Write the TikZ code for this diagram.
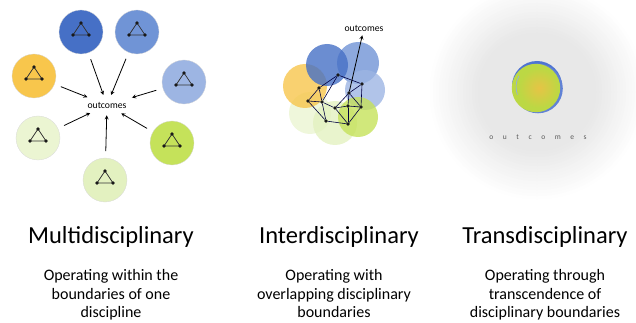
\documentclass[tikz,border=0pt]{standalone}
\usepackage{fontspec}
\setmainfont{Carlito}
\usetikzlibrary{arrows}

\definecolor{dblue}{HTML}{4670C6}
\definecolor{mblue}{HTML}{7094D6}
\definecolor{lblue}{HTML}{9DB5E3}
\definecolor{myellow}{HTML}{F8C64C}
\definecolor{pgreen}{HTML}{EBF5D2}
\definecolor{pgreen2}{HTML}{E3F1C0}
\definecolor{lime}{HTML}{C5E25A}
\definecolor{tblue}{HTML}{4F74D2}
\definecolor{tgreen}{HTML}{BCD844}
\definecolor{tyellow}{HTML}{E6C445}

\tikzset{
  disc/.style={circle, minimum size=44pt, inner sep=0pt, draw=black!15, line width=0.3pt},
  dot/.style={circle, fill=black!90, inner sep=0pt, minimum size=3.6pt},
  tri/.style={draw=black!80, line width=0.7pt},
  net/.style={draw=black!75!blue, line width=0.6pt},
  outlabel/.style={font=\fontsize{9.7}{11}\selectfont, inner sep=3pt},
  headtext/.style={font=\fontsize{24.5}{29}\selectfont, anchor=base, inner sep=0pt},
  subtext/.style={font=\fontsize{16}{18.5}\selectfont, align=center, anchor=north, inner sep=0pt}
}

\begin{document}
\begin{tikzpicture}[x=1pt, y=-1pt, line cap=round, line join=round, >=stealth]
  \useasboundingbox (0,0) rectangle (636,323);

  % grey glow behind the transdisciplinary disc (nested grey rings)
  \foreach \r in {110,107,...,56} {
    \pgfmathsetmacro\shadepct{min(9,(110-\r)/5.5)}
    \fill[black!\shadepct] (537,92) circle (\r);
  }

  % Multidisciplinary: seven separate discs
  \node[outlabel] (outm) at (107,105) {outcomes};
  \foreach \n/\x/\y/\c in {m1/81/32/dblue, m2/137/32/mblue, m3/184/82/lblue,
                           m4/34/76/myellow, m5/38/138/pgreen, m6/172/143/lime, m7/105/180/pgreen2} {
    \node[disc, fill=\c] (\n) at (\x,\y) {};
    \draw[tri] (\x,\y-9) -- (\x-8,\y+3) -- (\x+8,\y+3) -- cycle;
    \foreach \dx/\dy in {0/-9, -8/3, 8/3}
      \node[dot] at (\x+\dx,\y+\dy) {};
    \draw[->, line width=0.8pt, shorten <=7pt, shorten >=4pt] (\n) -- (outm);
  }

  % Interdisciplinary: overlapping discs with one network
  \foreach \n/\x/\y/\r/\c in {i5/310/113/21/pgreen, i7/335/123/22/pgreen2, i4/305/86/22/myellow,
                              i2/358/63/21/mblue, i1/327/65/21/dblue, i3/365/90/20/lblue, i6/358/117/20/lime}
    \fill[\c, fill opacity=0.8] (\x,\y) circle (\r);

  \foreach \n/\x/\y in {a/338/75, b/362/84, c/319/88, d/349/93, e/308/101, f/322/102,
                        g/335/108, h/348/106, i/361/107, j/326/121, k/348/124}
    \node[dot] (n\n) at (\x,\y) {};
  \foreach \s/\t in {a/b, a/c, a/f, b/d, b/i, c/e, c/f, e/f, e/j, f/g, f/j, g/d,
                     g/h, g/k, h/d, h/i, h/k, i/k, j/k, d/i}
    \draw[net] (n\s) -- (n\t);

  \node[outlabel] (outi) at (364,28) {outcomes};
  \draw[->, line width=0.8pt, shorten >=1pt] (nd) -- (outi);

  % Transdisciplinary: one blended disc
  \fill[tblue] (537,86) circle (25);
  \fill[tblue!90] (538,88.5) circle (24.8);
  \fill[tgreen] (536,88) circle (24.2);
  \draw[tblue!60, line width=0.7pt] (538,87) ++(160:22) arc (160:210:22);
  \shade[inner color=tyellow, outer color=tgreen] (539,88) circle (20);
  \node[font=\fontsize{7.5}{9}\selectfont\addfontfeatures{LetterSpace=105}, text=black!65] (outt) at (538,137) {o u t c o m e s};

  % headings
  \node[headtext] (hm) at (111,243.3) {Multidisciplinary};
  \node[headtext] (hi) at (339,243.3) {Interdisciplinary};
  \node[headtext] (ht) at (545,243.3) {Transdisciplinary};

  % descriptions
  \node[subtext] (sm) at (111,269.5) {Operating within the\\boundaries of one\\discipline};
  \node[subtext] (si) at (334,269.5) {Operating with\\overlapping disciplinary\\boundaries};
  \node[subtext] (st) at (545,269.5) {Operating through\\transcendence of\\disciplinary boundaries};
\end{tikzpicture}
\end{document}
